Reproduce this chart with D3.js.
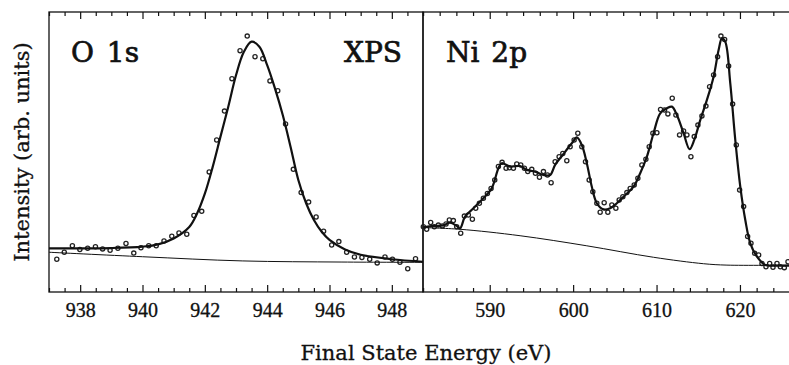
<!DOCTYPE html>
<html><head><meta charset="utf-8">
<script src="https://cdn.jsdelivr.net/npm/d3@7"></script>
<style>body{margin:0;background:#fff}svg{display:block}</style>
</head><body>
<svg id="c" width="789" height="365"></svg>
<script>
// ---- O 1s data ----
const o1sEnergy = [937.25,937.49,937.75,937.99,938.24,938.49,938.72,938.96,939.21,939.47,939.72,939.95,940.20,940.44,940.69,940.94,941.17,941.42,941.65,941.90,942.14,942.38,942.63,942.87,943.13,943.36,943.61,943.86,944.09,944.34,944.59,944.84,945.09,945.33,945.57,945.81,946.07,946.30,946.55,946.80,947.04,947.29,947.53,947.78,948.02,948.26,948.51,948.76];
const o1sCounts = [11.7,14.2,16.5,15.2,15.6,16.2,15.4,14.9,15.6,17.3,13.9,15.8,16.5,16.5,18.2,19.9,21.1,20.6,27.3,28.8,42.9,54.3,64.6,76.2,86.2,91.4,84.0,83.3,75.4,71.9,60.0,43.8,35.5,32.1,26.8,21.7,16.8,18.0,14.2,12.5,12.3,11.7,10.4,12.5,11.7,10.6,8.3,11.9];
const o1sFitEnergy = [937.0,938.0,939.0,940.0,940.5,941.0,941.5,941.75,942.0,942.25,942.5,942.75,943.0,943.25,943.5,943.75,944.0,944.25,944.5,944.75,945.0,945.25,945.5,945.75,946.0,946.5,947.0,948.0,949.0];
const o1sFit = [15.6,15.6,15.7,16.2,17.0,19.1,23.2,28.0,35.1,44.6,55.4,66.1,77.4,85.7,89.4,87.6,81.0,72.7,63.2,51.9,40.0,31.7,25.7,21.5,18.6,15.2,13.3,11.7,10.8];
const o1sBgEnergy = [937.0,940.0,943.2,946.4,949.0];
const o1sBg = [14.2,12.6,11.1,10.7,10.6];
const o1sTicks = [938,940,942,944,946,948];

// ---- Ni 2p data ----
const niEnergy = [582.04,582.44,582.92,583.36,583.84,584.32,584.76,585.16,585.64,586.04,586.52,586.96,587.44,587.92,588.32,588.76,589.24,589.72,590.16,590.60,591.04,591.48,591.96,592.36,592.84,593.24,593.72,594.16,594.56,595.04,595.48,595.96,596.44,596.92,597.36,597.84,598.32,598.76,599.24,599.64,600.12,600.56,601.04,601.48,601.92,602.36,602.84,603.24,603.72,604.16,604.64,605.12,605.52,605.96,606.44,606.84,607.32,607.76,608.24,608.72,609.12,609.56,610.04,610.48,610.96,611.36,611.88,612.32,612.76,613.24,613.64,614.12,614.52,614.96,615.44,615.92,616.36,616.84,617.32,617.72,618.16,618.64,619.12,619.56,619.96,620.44,620.92,621.32,621.76,622.24,622.64,623.12,623.56,623.96,624.44,624.84,625.32,625.76];
const niCounts = [23.3,22.4,24.8,23.3,23.9,23.6,24.3,25.7,25.5,23.3,21.0,27.1,27.5,26.0,29.9,31.7,33.5,35.2,37.0,40.0,44.8,46.3,44.2,44.4,44.2,45.7,45.4,44.2,43.0,43.8,42.4,41.0,43.0,41.8,39.0,46.5,48.3,49.5,46.9,51.9,54.3,56.7,51.9,46.5,40.0,35.8,31.7,28.5,31.9,28.5,31.1,29.9,32.9,34.0,35.5,37.0,38.2,40.6,45.4,47.4,51.9,56.7,56.9,65.2,65.0,63.6,69.2,63.2,56.1,57.5,56.1,48.3,55.5,59.6,62.9,66.4,73.3,77.5,84.0,91.4,90.2,80.7,67.1,52.5,36.4,30.5,19.8,17.4,13.8,13.2,10.2,9.0,10.2,8.8,10.2,9.0,8.7,10.8];
const niFitEnergy = [582.04,583.24,584.44,585.24,586.04,586.44,587.04,588.04,589.24,590.24,591.04,591.44,592.44,593.64,594.44,595.44,596.44,597.24,597.84,598.84,599.84,600.44,601.04,601.64,602.24,602.84,603.64,604.44,605.24,606.04,607.24,608.04,608.84,609.64,610.44,611.24,611.84,612.44,613.24,613.96,614.52,615.24,616.04,616.84,617.44,617.84,618.24,618.84,619.44,620.04,620.64,621.24,622.04,623.04,624.04,625.88];
const niFit = [23.1,23.6,23.8,24.8,23.6,22.7,26.9,29.9,33.5,37.0,44.2,46.0,44.8,45.0,43.6,43.0,41.8,41.8,45.4,49.3,53.1,55.2,52.5,46.0,37.6,31.7,29.5,29.9,31.7,34.0,37.6,42.4,48.3,56.7,63.8,65.6,66.2,63.2,56.7,51.0,54.3,61.4,68.6,76.9,86.4,90.6,89.4,74.5,54.3,37.6,25.7,17.4,12.6,9.6,9.4,9.4];
const niBgEnergy = [582.04,586.44,593.64,601.64,609.64,615.64,618.44,625.88];
const niBg = [23.0,22.4,20.1,16.5,12.4,10.1,9.6,9.6];
const niTicks = [590,600,610,620];

const panelLabels = ["O 1s", "XPS", "Ni 2p"];
const yTitle = "Intensity (arb. units)";
const xTitle = "Final State Energy (eV)";

// ---- drawing ----
const svg = d3.select("#c");
const yTop = 12, yBot = 292;
const y = d3.scaleLinear().domain([0, 100]).range([yBot, yTop]);

const panels = [
  {x0: 49, x1: 423, domain: [937, 949], major: o1sTicks, minorStep: 0.5,
   E: o1sEnergy, C: o1sCounts, fE: o1sFitEnergy, f: o1sFit, bE: o1sBgEnergy, b: o1sBg},
  {x0: 423, x1: 790, domain: [582, 626], major: niTicks, minorStep: 2,
   E: niEnergy, C: niCounts, fE: niFitEnergy, f: niFit, bE: niBgEnergy, b: niBg}
];

panels.forEach(p => {
  const x = d3.scaleLinear().domain(p.domain).range([p.x0, p.x1]);
  const minors = d3.range(p.domain[0], p.domain[1] + 1e-9, p.minorStep).filter(v => !p.major.includes(v));
  const gB = svg.append("g").attr("transform", `translate(0,${yBot})`);
  gB.call(d3.axisBottom(x).tickValues(minors).tickSize(-4).tickFormat(""));
  gB.select(".domain").remove();
  const gB2 = svg.append("g").attr("transform", `translate(0,${yBot})`);
  gB2.call(d3.axisBottom(x).tickValues(p.major).tickSize(-7).tickPadding(11).tickFormat(d3.format("d")));
  gB2.select(".domain").remove();
  gB2.selectAll("text").attr("font-family", "Liberation Serif").attr("font-size", 20)
    .attr("fill", "#111").attr("stroke", "#111").attr("stroke-width", 0.3);
  const gT = svg.append("g").attr("transform", `translate(0,${yTop})`);
  gT.call(d3.axisTop(x).tickValues(minors).tickSize(-4).tickFormat(""));
  gT.select(".domain").remove();
  const gT2 = svg.append("g").attr("transform", `translate(0,${yTop})`);
  gT2.call(d3.axisTop(x).tickValues(p.major).tickSize(-7).tickFormat(""));
  gT2.select(".domain").remove();
  svg.selectAll(".tick line").attr("stroke", "#111").attr("stroke-width", 1.2);

  svg.append("rect").attr("x", p.x0).attr("y", yTop).attr("width", p.x1 - p.x0).attr("height", yBot - yTop)
    .attr("fill", "none").attr("stroke", "#111").attr("stroke-width", 1.3);

  svg.append("g").selectAll("circle").data(p.E).join("circle")
    .attr("cx", d => x(d)).attr("cy", (d, i) => y(p.C[i])).attr("r", 2.1)
    .attr("fill", "none").attr("stroke", "#222").attr("stroke-width", 1.3);

  const line = d3.line().x(d => x(d[0])).y(d => y(d[1])).curve(d3.curveCatmullRom.alpha(0.5));
  svg.append("path").datum(p.bE.map((e, i) => [e, p.b[i]]))
    .attr("d", line).attr("fill", "none").attr("stroke", "#111").attr("stroke-width", 1);
  svg.append("path").datum(p.fE.map((e, i) => [e, p.f[i]]))
    .attr("d", line).attr("fill", "none").attr("stroke", "#111").attr("stroke-width", 2.2);
});

const labelStyle = s => s.attr("font-family", "DejaVu Serif").attr("font-size", 28).attr("fill", "#111")
  .attr("stroke", "#111").attr("stroke-width", 0.7);
svg.append("text").attr("x", 71).attr("y", 62).attr("xml:space", "preserve").text(panelLabels[0]).call(labelStyle)
  .attr("word-spacing", 4);
svg.append("text").attr("x", 402).attr("y", 62).attr("text-anchor", "end").text(panelLabels[1]).call(labelStyle);
svg.append("text").attr("x", 446).attr("y", 62).text(panelLabels[2]).call(labelStyle).attr("word-spacing", 3);

svg.append("text").attr("transform", "translate(29,152) rotate(-90)").attr("text-anchor", "middle")
  .attr("font-family", "DejaVu Serif").attr("font-size", 21).attr("fill", "#111")
  .attr("stroke", "#111").attr("stroke-width", 0.3).text(yTitle);
svg.append("text").attr("x", 426).attr("y", 360).attr("text-anchor", "middle")
  .attr("font-family", "DejaVu Serif").attr("font-size", 21).attr("fill", "#111")
  .attr("stroke", "#111").attr("stroke-width", 0.3).text(xTitle);
</script>
</body></html>
